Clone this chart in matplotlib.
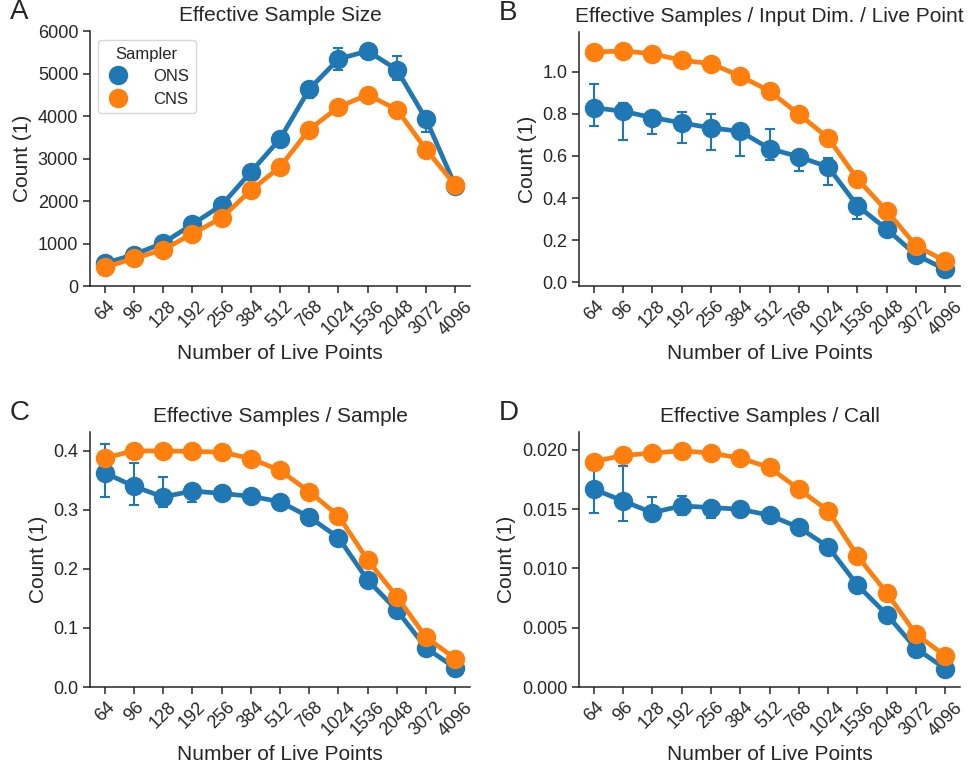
import numpy as np
import matplotlib.pyplot as plt
from matplotlib.lines import Line2D

plt.rcParams['font.family'] = ['Liberation Sans', 'DejaVu Sans']
plt.rcParams['text.color'] = '#262626'
plt.rcParams['axes.labelcolor'] = '#262626'
plt.rcParams['xtick.color'] = '#262626'
plt.rcParams['ytick.color'] = '#262626'

live_points = ['64', '96', '128', '192', '256', '384', '512', '768', '1024', '1536', '2048', '3072', '4096']

# effective sample size
ess_ons = [530, 740, 1010, 1450, 1900, 2680, 3460, 4630, 5340, 5530, 5090, 3920, 2350]
ess_ons_lo = [470, 680, 940, 1380, 1820, 2600, 3380, 4420, 5090, 5470, 4840, 3620, 2300]
ess_ons_hi = [590, 800, 1080, 1520, 1980, 2760, 3540, 4800, 5590, 5600, 5410, 4060, 2400]
ess_cns = [440, 650, 850, 1230, 1600, 2250, 2800, 3680, 4210, 4500, 4150, 3210, 2370]

# effective samples / input dim. / live point
esd_ons = [0.829, 0.812, 0.782, 0.757, 0.733, 0.717, 0.635, 0.596, 0.548, 0.363, 0.253, 0.130, 0.062]
esd_ons_lo = [0.744, 0.678, 0.705, 0.662, 0.627, 0.599, 0.581, 0.529, 0.464, 0.303, 0.235, 0.118, 0.055]
esd_ons_hi = [0.943, 0.850, 0.809, 0.807, 0.798, 0.740, 0.728, 0.620, 0.590, 0.400, 0.270, 0.142, 0.070]
esd_cns = [1.093, 1.098, 1.085, 1.054, 1.038, 0.979, 0.908, 0.798, 0.686, 0.490, 0.340, 0.174, 0.101]

# effective samples / sample
ess_per_sample_ons = [0.363, 0.340, 0.322, 0.332, 0.328, 0.323, 0.314, 0.288, 0.253, 0.181, 0.130, 0.066, 0.032]
ess_per_sample_ons_lo = [0.322, 0.308, 0.305, 0.314, 0.322, 0.318, 0.309, 0.283, 0.247, 0.176, 0.126, 0.063, 0.030]
ess_per_sample_ons_hi = [0.412, 0.380, 0.355, 0.342, 0.334, 0.328, 0.319, 0.293, 0.259, 0.186, 0.134, 0.069, 0.034]
ess_per_sample_cns = [0.388, 0.400, 0.400, 0.399, 0.398, 0.387, 0.367, 0.331, 0.290, 0.215, 0.153, 0.084, 0.048]

# effective samples / call
ess_per_call_ons = [0.01668, 0.01569, 0.01470, 0.01527, 0.01513, 0.01499, 0.01448, 0.01346, 0.01183, 0.00859, 0.00611, 0.00324, 0.00155]
ess_per_call_ons_lo = [0.01465, 0.01400, 0.01420, 0.01450, 0.01428, 0.01470, 0.01425, 0.01325, 0.01165, 0.00845, 0.00600, 0.00315, 0.00148]
ess_per_call_ons_hi = [0.01830, 0.01860, 0.01606, 0.01614, 0.01560, 0.01530, 0.01470, 0.01368, 0.01200, 0.00872, 0.00622, 0.00333, 0.00162]
ess_per_call_cns = [0.01901, 0.01952, 0.01972, 0.01992, 0.01972, 0.01930, 0.01851, 0.01668, 0.01487, 0.01104, 0.00794, 0.00445, 0.00262]

blue = '#1f77b4'
orange = '#ff7f0e'

fig = plt.figure(figsize=(9.71, 7.73), dpi=100)
W, H = 971, 773

def make_axes(left, top, right, bottom):
    return fig.add_axes([left / W, 1 - bottom / H, (right - left) / W, (bottom - top) / H])

panels = [
    (make_axes(90, 31, 470, 286), 'A', 'Effective Sample Size',
     ess_ons, ess_ons_lo, ess_ons_hi, ess_cns, (0, 6000), [0, 1000, 2000, 3000, 4000, 5000, 6000], '{:.0f}'),
    (make_axes(579, 32, 960, 286), 'B', 'Effective Samples / Input Dim. / Live Point',
     esd_ons, esd_ons_lo, esd_ons_hi, esd_cns, (-0.017, 1.188), [0, 0.2, 0.4, 0.6, 0.8, 1.0], '{:.1f}'),
    (make_axes(90, 432, 470, 687), 'C', 'Effective Samples / Sample',
     ess_per_sample_ons, ess_per_sample_ons_lo, ess_per_sample_ons_hi, ess_per_sample_cns,
     (0, 0.432), [0, 0.1, 0.2, 0.3, 0.4], '{:.1f}'),
    (make_axes(579, 432, 960, 687), 'D', 'Effective Samples / Call',
     ess_per_call_ons, ess_per_call_ons_lo, ess_per_call_ons_hi, ess_per_call_cns,
     (0, 0.0215), [0, 0.005, 0.010, 0.015, 0.020], '{:.3f}'),
]

x = np.arange(len(live_points))
for ax, letter, title, ons, lo, hi, cns, ylim, yticks, fmt in panels:
    ons = np.array(ons)
    yerr = np.vstack([ons - np.array(lo), np.array(hi) - ons])
    ax.errorbar(x, ons, yerr=yerr, fmt='none', ecolor=blue, elinewidth=1.5,
                capsize=3.5, capthick=1.5, zorder=2)
    ax.plot(x, ons, '-o', color=blue, lw=3.4, ms=13, zorder=3)
    ax.plot(x, cns, '-o', color=orange, lw=3.4, ms=13, zorder=4)

    ax.set_xlim(-0.5, 12.5)
    ax.set_ylim(*ylim)
    ax.set_xticks(x)
    ax.set_xticklabels(live_points, rotation=45, fontsize=13)
    ax.set_yticks(yticks)
    ax.set_yticklabels([fmt.format(v) for v in yticks], fontsize=13)
    ax.tick_params(length=5, width=1.1)
    for side in ['top', 'right']:
        ax.spines[side].set_visible(False)
    for side in ['left', 'bottom']:
        ax.spines[side].set_linewidth(1.1)
        ax.spines[side].set_color('#262626')

    ax.set_title(title, fontsize=15, pad=7)
    ax.set_xlabel('Number of Live Points', fontsize=15)
    ax.set_ylabel('Count (1)', fontsize=15)

    bbox = ax.get_position()
    fig.text(bbox.x0 - 80 / W, bbox.y1 + 6 / H, letter, fontsize=20, va='bottom', ha='left')

handles = [Line2D([], [], marker='o', ls='none', color=blue, ms=13),
           Line2D([], [], marker='o', ls='none', color=orange, ms=13)]
panels[0][0].legend(handles, ['ONS', 'CNS'], title='Sampler', loc='upper left',
                    bbox_to_anchor=(8 / 380, 1 - 9 / 255), borderaxespad=0,
                    fontsize=12, title_fontsize=12, handlelength=1.6,
                    handletextpad=1.3, borderpad=0.4, labelspacing=0.45)

fig.savefig('out.png', dpi=100)
